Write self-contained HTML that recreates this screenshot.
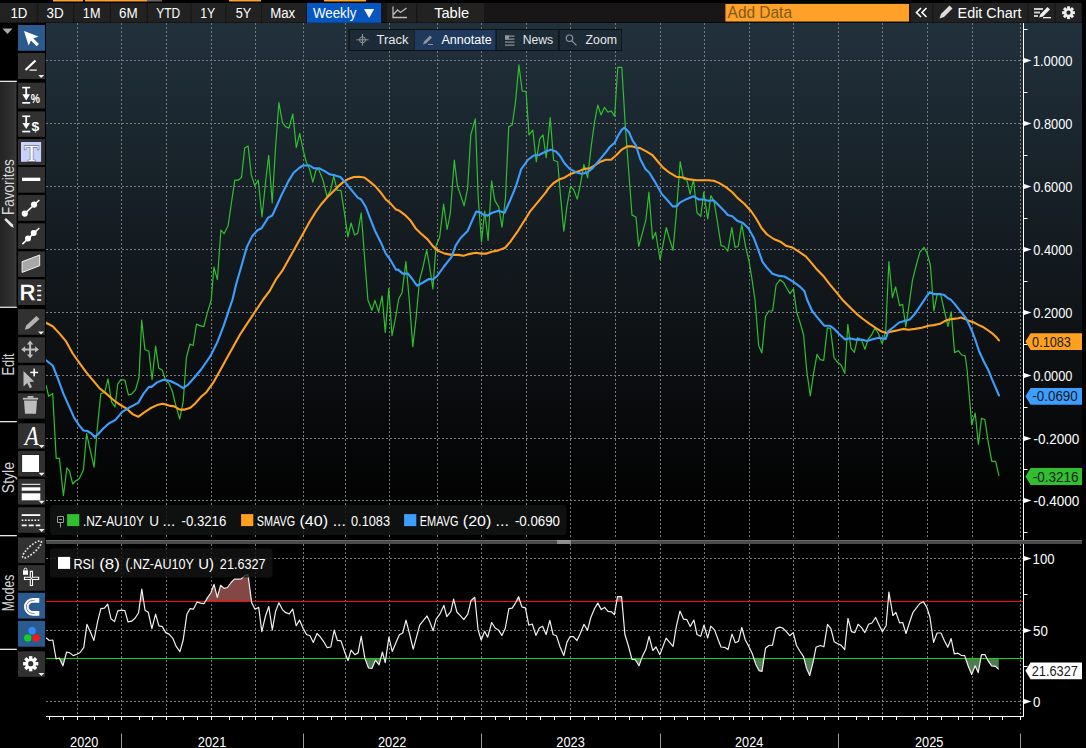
<!DOCTYPE html>
<html><head><meta charset="utf-8"><title>Chart</title>
<style>html,body{margin:0;padding:0;background:#000;overflow:hidden}svg{display:block}text{font-family:"Liberation Sans",Arial,sans-serif}text.sf{font-family:"Liberation Serif",serif}</style>
</head><body>
<svg width="1086" height="748" viewBox="0 0 1086 748" shape-rendering="auto">
<rect width="1086" height="748" fill="#000"/>
<defs>
<linearGradient id="bg" x1="0" y1="0" x2="0" y2="1"><stop offset="0" stop-color="#21313c"/><stop offset="0.45" stop-color="#131a1f"/><stop offset="0.72" stop-color="#0a0c0e"/><stop offset="0.92" stop-color="#020202"/><stop offset="1" stop-color="#000"/></linearGradient>
<linearGradient id="fav" x1="0" y1="0" x2="1" y2="0"><stop offset="0" stop-color="#242424"/><stop offset="0.85" stop-color="#323232"/><stop offset="1" stop-color="#3c3c3c"/></linearGradient>
<clipPath id="cm"><rect x="46" y="23" width="977" height="516"/></clipPath>
<clipPath id="c70"><rect x="46" y="545" width="977" height="56"/></clipPath>
<clipPath id="c30"><rect x="46" y="659" width="977" height="56"/></clipPath>
</defs>
<rect x="53.0" y="0.0" width="30.0" height="1.5" fill="#ffa028" />
<rect x="85.0" y="0.0" width="62.0" height="1.5" fill="#ffa028" />
<rect x="147.0" y="0.0" width="15.0" height="1.5" fill="#666" />
<rect x="229.0" y="0.0" width="32.0" height="1.5" fill="#ffa028" />
<rect x="324.0" y="0.0" width="42.0" height="1.5" fill="#ffa028" />
<rect x="0.0" y="3.0" width="1082.0" height="19.5" fill="#181616" />
<rect x="0.0" y="3.0" width="36.8" height="19.5" fill="#222222" />
<text x="10.41" y="18.0" font-size="15.26" fill="#fff" stroke="#fff" stroke-width="0" textLength="16.93" lengthAdjust="spacingAndGlyphs" >1D</text>
<rect x="38.3" y="3.0" width="34.7" height="19.5" fill="#222222" />
<text x="46.50" y="18.0" font-size="15.26" fill="#fff" stroke="#fff" stroke-width="0" textLength="17.15" lengthAdjust="spacingAndGlyphs" >3D</text>
<rect x="74.4" y="3.0" width="35.4" height="19.5" fill="#222222" />
<text x="82.85" y="18.0" font-size="15.26" fill="#fff" stroke="#fff" stroke-width="0" textLength="17.58" lengthAdjust="spacingAndGlyphs" >1M</text>
<rect x="111.0" y="3.0" width="35.6" height="19.5" fill="#222222" />
<text x="119.03" y="18.0" font-size="15.26" fill="#fff" stroke="#fff" stroke-width="0" textLength="18.67" lengthAdjust="spacingAndGlyphs" >6M</text>
<rect x="148.0" y="3.0" width="42.4" height="19.5" fill="#222222" />
<text x="156.26" y="18.0" font-size="15.26" fill="#fff" stroke="#fff" stroke-width="0" textLength="23.91" lengthAdjust="spacingAndGlyphs" >YTD</text>
<rect x="191.5" y="3.0" width="33.9" height="19.5" fill="#222222" />
<text x="200.28" y="18.0" font-size="15.26" fill="#fff" stroke="#fff" stroke-width="0" textLength="15.00" lengthAdjust="spacingAndGlyphs" >1Y</text>
<rect x="226.5" y="3.0" width="34.5" height="19.5" fill="#222222" />
<text x="235.69" y="18.0" font-size="15.26" fill="#fff" stroke="#fff" stroke-width="0" textLength="15.50" lengthAdjust="spacingAndGlyphs" >5Y</text>
<rect x="262.0" y="3.0" width="44.0" height="19.5" fill="#222222" />
<text x="270.14" y="18.0" font-size="15.26" fill="#fff" stroke="#fff" stroke-width="0" textLength="25.08" lengthAdjust="spacingAndGlyphs" >Max</text>
<rect x="307.0" y="3.0" width="74.0" height="19.8" fill="#0556c0" />
<text x="312.97" y="18.0" font-size="15.26" fill="#fff" stroke="#fff" stroke-width="0" textLength="43.44" lengthAdjust="spacingAndGlyphs" >Weekly</text>
<path d="M364,9 L374.2,9 L369.1,18 Z" fill="#f4f4f4"/>
<rect x="387.0" y="3.0" width="29.0" height="19.5" fill="#222" />
<path d="M393,6.5 V17.5 H407 M393.5,14.5 L397.5,10 L400.5,12.5 L406.5,8" fill="none" stroke="#bbb" stroke-width="1.3"/>
<rect x="417.5" y="3.0" width="66.7" height="19.5" fill="#222" />
<text x="434.21" y="18.0" font-size="15.26" fill="#fff" stroke="#fff" stroke-width="0" textLength="34.92" lengthAdjust="spacingAndGlyphs" >Table</text>
<rect x="725.4" y="4.0" width="183.6" height="17.5" fill="#ffa028" />
<text x="727.60" y="18.4" font-size="15.99" fill="#7d5a1c" stroke="#7d5a1c" stroke-width="0" textLength="64.39" lengthAdjust="spacingAndGlyphs" >Add Data</text>
<rect x="911.0" y="3.0" width="21.0" height="19.5" fill="#222" />
<path d="M921,8 L916.5,12.5 L921,17 M926.5,8 L922,12.5 L926.5,17" fill="none" stroke="#fff" stroke-width="1.6"/>
<rect x="933.5" y="3.0" width="94.0" height="19.5" fill="#222" />
<path d="M939.5,18.5 L941,14 L949.5,5.5 L952.5,8.5 L944,17 Z" fill="#ddd"/>
<text x="957.55" y="18.0" font-size="15.26" fill="#fff" stroke="#fff" stroke-width="0" textLength="63.94" lengthAdjust="spacingAndGlyphs" >Edit Chart</text>
<rect x="1028.7" y="3.0" width="25.8" height="19.5" fill="#222" />
<rect x="1034.0" y="8.0" width="9.0" height="2.0" fill="#ccc" />
<rect x="1034.0" y="11.5" width="6.0" height="2.0" fill="#ccc" />
<rect x="1034.0" y="15.0" width="4.0" height="2.0" fill="#ccc" />
<path d="M1039,17.5 L1040.5,14 L1047.5,7 L1050,9.5 L1043,16.5 Z" fill="#eee"/>
<rect x="1043.0" y="17.0" width="8.0" height="1.3" fill="#eee" />
<rect x="1055.8" y="3.0" width="25.4" height="19.5" fill="#222" />
<g transform="translate(1068.5,12.7)"><rect x="-1.5" y="-6.4" width="3" height="12.8" fill="#eee" transform="rotate(0.0)"/><rect x="-1.5" y="-6.4" width="3" height="12.8" fill="#eee" transform="rotate(45.0)"/><rect x="-1.5" y="-6.4" width="3" height="12.8" fill="#eee" transform="rotate(90.0)"/><rect x="-1.5" y="-6.4" width="3" height="12.8" fill="#eee" transform="rotate(135.0)"/><circle r="4.5" fill="#eee"/><circle r="2.1" fill="#222"/></g>
<rect x="46.0" y="23.0" width="1036.0" height="517.0" fill="url(#bg)" />
<rect x="0.0" y="540.0" width="1086.0" height="208.0" fill="#000" />
<rect x="1082.0" y="0.0" width="4.0" height="748.0" fill="#000" />
<path d="M77.5,23 V539" stroke="#767b7a" stroke-width="1" stroke-dasharray="2 2" fill="none"/>
<path d="M77.5,544 V716" stroke="#767b7a" stroke-width="1" stroke-dasharray="2 2" fill="none"/>
<path d="M121.5,23 V539" stroke="#767b7a" stroke-width="1" stroke-dasharray="2 2" fill="none"/>
<path d="M121.5,544 V716" stroke="#767b7a" stroke-width="1" stroke-dasharray="2 2" fill="none"/>
<path d="M166.5,23 V539" stroke="#767b7a" stroke-width="1" stroke-dasharray="2 2" fill="none"/>
<path d="M166.5,544 V716" stroke="#767b7a" stroke-width="1" stroke-dasharray="2 2" fill="none"/>
<path d="M211.5,23 V539" stroke="#767b7a" stroke-width="1" stroke-dasharray="2 2" fill="none"/>
<path d="M211.5,544 V716" stroke="#767b7a" stroke-width="1" stroke-dasharray="2 2" fill="none"/>
<path d="M255.5,23 V539" stroke="#767b7a" stroke-width="1" stroke-dasharray="2 2" fill="none"/>
<path d="M255.5,544 V716" stroke="#767b7a" stroke-width="1" stroke-dasharray="2 2" fill="none"/>
<path d="M303.5,23 V539" stroke="#767b7a" stroke-width="1" stroke-dasharray="2 2" fill="none"/>
<path d="M303.5,544 V716" stroke="#767b7a" stroke-width="1" stroke-dasharray="2 2" fill="none"/>
<path d="M345.5,23 V539" stroke="#767b7a" stroke-width="1" stroke-dasharray="2 2" fill="none"/>
<path d="M345.5,544 V716" stroke="#767b7a" stroke-width="1" stroke-dasharray="2 2" fill="none"/>
<path d="M389.5,23 V539" stroke="#767b7a" stroke-width="1" stroke-dasharray="2 2" fill="none"/>
<path d="M389.5,544 V716" stroke="#767b7a" stroke-width="1" stroke-dasharray="2 2" fill="none"/>
<path d="M437.5,23 V539" stroke="#767b7a" stroke-width="1" stroke-dasharray="2 2" fill="none"/>
<path d="M437.5,544 V716" stroke="#767b7a" stroke-width="1" stroke-dasharray="2 2" fill="none"/>
<path d="M481.5,23 V539" stroke="#767b7a" stroke-width="1" stroke-dasharray="2 2" fill="none"/>
<path d="M481.5,544 V716" stroke="#767b7a" stroke-width="1" stroke-dasharray="2 2" fill="none"/>
<path d="M526.5,23 V539" stroke="#767b7a" stroke-width="1" stroke-dasharray="2 2" fill="none"/>
<path d="M526.5,544 V716" stroke="#767b7a" stroke-width="1" stroke-dasharray="2 2" fill="none"/>
<path d="M570.5,23 V539" stroke="#767b7a" stroke-width="1" stroke-dasharray="2 2" fill="none"/>
<path d="M570.5,544 V716" stroke="#767b7a" stroke-width="1" stroke-dasharray="2 2" fill="none"/>
<path d="M615.5,23 V539" stroke="#767b7a" stroke-width="1" stroke-dasharray="2 2" fill="none"/>
<path d="M615.5,544 V716" stroke="#767b7a" stroke-width="1" stroke-dasharray="2 2" fill="none"/>
<path d="M660.5,23 V539" stroke="#767b7a" stroke-width="1" stroke-dasharray="2 2" fill="none"/>
<path d="M660.5,544 V716" stroke="#767b7a" stroke-width="1" stroke-dasharray="2 2" fill="none"/>
<path d="M704.5,23 V539" stroke="#767b7a" stroke-width="1" stroke-dasharray="2 2" fill="none"/>
<path d="M704.5,544 V716" stroke="#767b7a" stroke-width="1" stroke-dasharray="2 2" fill="none"/>
<path d="M749.5,23 V539" stroke="#767b7a" stroke-width="1" stroke-dasharray="2 2" fill="none"/>
<path d="M749.5,544 V716" stroke="#767b7a" stroke-width="1" stroke-dasharray="2 2" fill="none"/>
<path d="M793.5,23 V539" stroke="#767b7a" stroke-width="1" stroke-dasharray="2 2" fill="none"/>
<path d="M793.5,544 V716" stroke="#767b7a" stroke-width="1" stroke-dasharray="2 2" fill="none"/>
<path d="M838.5,23 V539" stroke="#767b7a" stroke-width="1" stroke-dasharray="2 2" fill="none"/>
<path d="M838.5,544 V716" stroke="#767b7a" stroke-width="1" stroke-dasharray="2 2" fill="none"/>
<path d="M882.5,23 V539" stroke="#767b7a" stroke-width="1" stroke-dasharray="2 2" fill="none"/>
<path d="M882.5,544 V716" stroke="#767b7a" stroke-width="1" stroke-dasharray="2 2" fill="none"/>
<path d="M927.5,23 V539" stroke="#767b7a" stroke-width="1" stroke-dasharray="2 2" fill="none"/>
<path d="M927.5,544 V716" stroke="#767b7a" stroke-width="1" stroke-dasharray="2 2" fill="none"/>
<path d="M972.5,23 V539" stroke="#767b7a" stroke-width="1" stroke-dasharray="2 2" fill="none"/>
<path d="M972.5,544 V716" stroke="#767b7a" stroke-width="1" stroke-dasharray="2 2" fill="none"/>
<path d="M1020.5,23 V539" stroke="#767b7a" stroke-width="1" stroke-dasharray="2 2" fill="none"/>
<path d="M1020.5,544 V716" stroke="#767b7a" stroke-width="1" stroke-dasharray="2 2" fill="none"/>
<path d="M46,60.5 H1023" stroke="#767b7a" stroke-width="1" stroke-dasharray="2 2" fill="none"/>
<path d="M46,123.5 H1023" stroke="#767b7a" stroke-width="1" stroke-dasharray="2 2" fill="none"/>
<path d="M46,186.5 H1023" stroke="#767b7a" stroke-width="1" stroke-dasharray="2 2" fill="none"/>
<path d="M46,249.5 H1023" stroke="#767b7a" stroke-width="1" stroke-dasharray="2 2" fill="none"/>
<path d="M46,312.5 H1023" stroke="#767b7a" stroke-width="1" stroke-dasharray="2 2" fill="none"/>
<path d="M46,375.5 H1023" stroke="#767b7a" stroke-width="1" stroke-dasharray="2 2" fill="none"/>
<path d="M46,438.5 H1023" stroke="#767b7a" stroke-width="1" stroke-dasharray="2 2" fill="none"/>
<path d="M46,500.5 H1023" stroke="#767b7a" stroke-width="1" stroke-dasharray="2 2" fill="none"/>
<path d="M46,558.5 H1023" stroke="#767b7a" stroke-width="1" stroke-dasharray="2 2" fill="none"/>
<path d="M46,630.5 H1023" stroke="#767b7a" stroke-width="1" stroke-dasharray="2 2" fill="none"/>
<path d="M46,701.5 H1023" stroke="#767b7a" stroke-width="1" stroke-dasharray="2 2" fill="none"/>
<g clip-path="url(#cm)">
<path d="M46.0,385.0 L48.7,396.3 L52.7,393.6 L56.2,458.3 L59.4,458.3 L63.4,495.7 L66.9,467.9 L69.5,471.1 L72.7,484.0 L76.2,480.5 L79.4,478.6 L83.4,469.8 L86.6,433.7 L90.1,449.7 L94.1,467.1 L97.3,428.3 L100.8,393.6 L104.8,392.2 L108.0,378.9 L111.5,401.6 L115.0,407.0 L117.7,384.2 L120.9,379.7 L124.9,380.2 L128.4,394.9 L131.6,394.1 L135.6,389.6 L139.0,377.5 L141.7,320.1 L144.9,349.5 L148.9,351.3 L152.1,379.7 L155.6,346.0 L158.8,368.2 L162.3,370.1 L165.5,380.2 L169.0,383.4 L172.2,390.9 L176.2,407.0 L179.7,419.0 L183.2,401.6 L186.4,357.5 L189.9,344.1 L193.1,345.5 L196.5,324.1 L200.5,325.9 L203.8,326.7 L207.2,313.4 L211.2,300.0 L213.9,267.1 L217.4,279.7 L220.9,230.2 L224.1,233.7 L228.1,225.7 L231.6,201.6 L234.8,180.2 L238.2,180.2 L241.5,177.5 L244.7,148.1 L248.1,146.0 L251.3,174.9 L254.8,185.6 L258.3,180.2 L262.0,216.8 L265.5,182.9 L268.7,155.3 L272.2,202.9 L275.4,149.5 L278.9,102.7 L282.4,122.7 L285.6,126.7 L289.0,128.1 L292.8,113.9 L296.3,147.6 L299.7,133.4 L303.0,149.5 L306.2,162.0 L309.6,169.0 L312.8,182.1 L316.3,169.0 L319.0,170.1 L323.0,180.2 L327.0,196.3 L330.5,190.9 L333.7,176.2 L337.2,190.4 L340.9,190.4 L344.4,212.3 L347.9,236.9 L351.1,223.0 L354.6,235.0 L357.8,233.2 L361.2,212.8 L364.4,255.1 L367.9,300.0 L371.9,310.3 L374.9,300.4 L378.6,311.9 L382.1,295.8 L385.3,332.5 L388.8,288.3 L392.0,335.7 L395.5,317.8 L398.7,299.0 L402.1,292.4 L405.9,261.6 L409.4,301.7 L412.8,346.6 L416.1,317.8 L419.5,280.3 L423.0,267.0 L426.7,250.1 L429.7,267.0 L432.9,288.9 L436.1,245.6 L439.6,237.5 L443.6,204.1 L447.1,229.5 L450.3,213.5 L454.3,160.0 L457.4,185.7 L460.9,196.4 L464.1,205.8 L467.6,188.4 L470.8,134.9 L475.3,118.9 L478.2,197.8 L481.5,241.9 L484.7,211.1 L488.1,240.5 L491.6,180.9 L494.8,200.4 L498.8,207.1 L502.0,227.2 L505.5,197.8 L508.7,126.9 L512.2,125.0 L515.4,102.8 L518.9,64.9 L522.1,90.8 L526.1,91.6 L529.0,134.9 L532.8,130.1 L536.3,161.7 L539.7,138.9 L543.0,134.9 L546.2,157.6 L550.2,117.5 L553.6,160.3 L557.7,161.7 L560.3,193.7 L563.8,231.2 L567.0,205.8 L570.5,186.5 L573.7,189.7 L577.2,199.1 L580.4,184.4 L583.9,164.3 L587.6,177.7 L591.1,147.0 L594.6,121.6 L597.8,105.0 L601.0,114.9 L604.4,107.4 L607.9,112.2 L611.1,110.9 L614.6,116.2 L617.8,67.3 L621.8,67.3 L625.3,125.6 L628.5,168.3 L632.0,215.1 L636.0,217.0 L638.7,246.5 L642.2,233.7 L645.9,219.8 L648.9,192.2 L652.6,239.0 L655.6,232.4 L660.1,259.6 L663.6,241.7 L666.3,227.5 L669.5,239.0 L673.0,250.3 L676.2,215.0 L680.2,161.5 L683.4,178.9 L686.9,180.2 L690.1,194.1 L693.5,179.7 L697.0,212.8 L700.8,216.3 L703.7,192.2 L707.7,219.0 L710.9,195.5 L714.1,201.6 L717.6,223.0 L721.1,245.7 L724.3,246.5 L727.8,251.1 L731.8,227.5 L735.0,247.1 L738.2,246.5 L741.7,224.3 L745.7,247.1 L748.9,260.4 L752.4,281.8 L755.0,300.0 L758.7,345.7 L761.9,352.9 L765.4,316.8 L768.9,311.0 L772.6,311.0 L776.1,285.0 L780.1,279.7 L783.6,282.4 L786.8,288.2 L790.0,293.6 L793.5,288.8 L796.7,312.3 L800.2,323.0 L803.6,335.0 L806.8,371.1 L810.3,396.0 L813.5,373.8 L817.0,354.3 L820.2,359.6 L823.7,360.4 L827.4,327.8 L830.4,328.3 L834.1,357.8 L837.6,362.3 L841.1,365.0 L844.8,373.3 L847.8,324.3 L851.0,348.4 L854.4,352.4 L857.6,337.7 L861.7,340.4 L864.9,349.2 L868.3,339.0 L871.6,335.0 L875.0,327.8 L878.5,333.7 L882.2,343.9 L885.7,331.0 L888.9,261.5 L892.4,297.6 L895.6,286.9 L899.6,305.6 L902.6,304.3 L905.8,327.0 L909.3,302.9 L912.5,280.2 L916.5,264.2 L919.9,252.1 L924.0,247.3 L927.2,253.5 L930.4,265.5 L933.9,311.0 L937.3,293.6 L940.5,293.6 L944.3,310.5 L948.0,326.4 L951.2,311.8 L954.6,352.6 L958.3,350.7 L961.7,355.0 L965.2,355.8 L967.1,370.0 L971.8,424.9 L975.2,413.1 L978.4,444.5 L981.5,418.3 L984.9,419.6 L988.3,442.6 L991.8,461.4 L995.6,461.4 L999.0,475.8" fill="none" stroke="#2fbf2f" stroke-width="1.2" stroke-linejoin="round"/>
<path d="M46.0,322.7 L52.7,326.2 L59.4,333.4 L66.1,341.4 L72.7,353.5 L79.4,362.8 L86.1,372.2 L92.8,380.2 L99.5,388.2 L106.2,393.6 L112.8,399.5 L119.5,404.3 L126.2,408.3 L132.9,414.4 L138.2,416.8 L143.6,412.8 L150.3,408.3 L157.0,405.1 L162.8,403.7 L169.0,405.6 L174.3,406.4 L179.7,409.6 L185.0,409.6 L190.4,407.8 L195.7,402.9 L201.1,396.8 L206.4,392.2 L213.1,382.9 L219.8,370.9 L226.5,358.8 L233.2,346.8 L239.9,334.8 L246.0,325.4 L262.8,300.0 L269.5,291.2 L276.2,279.1 L282.9,269.8 L289.6,257.8 L296.3,245.7 L303.0,233.7 L309.6,221.7 L316.3,211.0 L321.7,203.7 L327.0,197.6 L332.4,192.2 L337.7,186.9 L343.1,182.1 L348.4,178.9 L353.8,177.0 L359.1,176.7 L364.4,177.5 L369.8,181.6 L375.1,186.1 L380.5,192.2 L385.8,199.5 L389.9,202.9 L396.0,209.6 L399.5,210.8 L404.8,214.8 L410.2,220.2 L415.5,228.2 L420.9,233.5 L427.6,239.4 L432.9,246.1 L438.2,250.9 L444.9,253.6 L451.6,254.9 L458.3,254.9 L463.6,255.7 L469.0,254.1 L475.7,252.8 L481.0,253.6 L486.4,253.6 L491.7,251.7 L498.4,250.4 L505.1,247.7 L510.4,241.6 L517.1,232.2 L523.8,221.5 L530.5,210.8 L537.2,202.8 L546.0,192.1 L548.3,188.4 L553.6,183.0 L559.0,179.6 L564.3,177.7 L571.0,173.7 L577.7,171.6 L584.4,168.9 L589.7,168.3 L595.1,165.1 L600.4,161.7 L605.8,159.8 L611.1,159.8 L616.5,155.0 L621.8,149.6 L627.2,146.4 L632.5,146.4 L636.0,147.5 L640.1,148.1 L646.7,151.6 L652.1,154.8 L657.4,161.0 L662.8,167.4 L669.5,172.7 L676.2,176.7 L682.8,177.5 L689.5,179.4 L696.2,180.2 L702.9,180.2 L708.2,180.2 L713.6,180.7 L718.9,182.9 L725.6,186.9 L732.3,192.2 L737.7,198.1 L744.3,203.7 L751.0,211.0 L756.4,219.0 L761.7,228.3 L767.1,234.5 L773.8,239.0 L780.4,241.7 L785.8,245.7 L792.5,247.6 L799.2,251.9 L805.8,256.4 L811.2,262.6 L816.0,268.4 L822.9,275.4 L829.6,284.2 L836.3,292.2 L842.9,300.3 L849.6,307.0 L856.3,313.6 L863.0,319.0 L869.7,323.8 L876.4,328.3 L881.7,331.6 L886.5,332.9 L891.1,331.6 L897.8,330.2 L903.1,328.9 L908.4,329.7 L915.1,328.9 L921.8,327.8 L928.5,325.7 L933.9,325.1 L940.0,323.8 L944.3,321.3 L949.0,319.5 L953.6,318.9 L958.3,318.3 L961.1,317.6 L964.9,318.9 L969.5,321.1 L974.2,322.6 L978.9,325.1 L983.6,327.3 L988.3,330.5 L992.9,333.9 L996.7,337.6 L998.9,340.4" fill="none" stroke="#ffa01e" stroke-width="2.1" stroke-linejoin="round" stroke-linecap="round"/>
<path d="M46.0,360.2 L52.7,365.5 L58.0,378.9 L63.4,393.6 L68.7,405.6 L74.1,417.6 L79.4,425.7 L83.4,430.5 L87.4,431.0 L91.5,433.7 L94.7,436.9 L98.1,434.2 L103.5,428.3 L108.8,423.5 L115.5,419.8 L122.2,411.8 L128.9,407.8 L138.2,402.9 L143.6,393.6 L148.9,386.9 L151.6,386.9 L157.0,382.4 L163.6,379.7 L170.3,381.0 L177.0,384.2 L183.2,388.2 L187.7,385.0 L194.4,377.5 L201.1,369.5 L210.4,356.1 L217.1,342.8 L223.8,325.4 L230.5,305.3 L232.4,300.0 L236.1,284.5 L241.5,265.8 L246.8,247.1 L252.1,236.4 L257.5,230.2 L261.5,228.3 L268.2,217.6 L272.2,215.5 L276.2,207.0 L281.6,194.9 L288.2,181.6 L293.6,172.7 L298.9,168.2 L303.0,165.5 L309.6,165.5 L313.6,168.2 L319.0,168.2 L324.3,170.9 L329.7,174.3 L335.0,175.4 L340.4,177.0 L345.7,182.9 L351.1,189.6 L357.8,197.6 L361.2,199.5 L365.8,207.0 L369.8,217.6 L375.1,231.0 L380.5,241.7 L385.8,253.7 L389.9,259.1 L396.0,269.8 L398.1,269.6 L402.7,273.6 L408.0,273.6 L412.3,279.0 L416.9,285.7 L422.2,283.0 L428.9,279.0 L432.9,279.5 L436.9,276.3 L443.6,267.0 L451.6,256.8 L455.6,245.6 L461.0,237.5 L467.7,230.9 L471.7,221.5 L476.2,211.6 L479.7,212.1 L483.7,214.8 L487.7,215.6 L491.7,212.9 L498.4,210.8 L504.6,212.7 L509.1,202.8 L515.8,186.7 L521.1,169.4 L527.8,160.0 L533.6,155.5 L538.9,155.0 L544.3,152.3 L551.0,149.6 L556.3,151.8 L560.3,156.3 L564.3,163.0 L569.7,168.9 L576.4,172.4 L581.7,173.7 L587.1,172.4 L592.4,168.3 L599.1,160.3 L605.8,152.3 L609.8,147.0 L614.6,142.9 L617.8,136.3 L621.8,129.6 L624.5,127.7 L629.0,132.2 L632.5,140.3 L636.0,145.6 L640.1,158.8 L645.4,169.0 L649.4,172.7 L654.8,181.6 L661.5,193.6 L666.8,199.5 L672.7,206.4 L676.2,206.4 L680.2,202.4 L686.9,198.9 L693.5,196.3 L698.9,199.5 L703.7,199.5 L708.2,200.8 L713.6,200.3 L718.9,205.6 L724.3,211.0 L727.8,215.0 L732.3,216.3 L737.7,221.1 L743.0,223.0 L748.4,228.3 L753.7,237.7 L757.7,248.4 L762.5,261.8 L767.1,267.9 L772.4,273.8 L779.1,275.9 L784.4,276.5 L789.8,279.7 L795.1,283.2 L800.5,287.2 L804.5,291.2 L807.2,300.0 L812.2,311.0 L817.5,317.6 L824.2,325.7 L829.6,325.7 L833.6,328.3 L838.9,333.7 L845.1,339.6 L849.6,338.2 L855.0,339.6 L861.7,339.6 L867.0,340.9 L873.7,339.0 L879.0,337.7 L885.7,339.0 L888.4,331.0 L893.7,327.0 L899.1,322.5 L904.4,320.9 L909.8,319.5 L915.1,313.6 L920.5,305.6 L925.8,297.6 L929.8,292.2 L933.9,294.1 L940.0,294.1 L944.3,295.1 L948.0,298.3 L950.8,299.6 L954.6,303.9 L958.3,308.6 L962.1,313.3 L965.8,318.0 L968.6,323.6 L972.4,332.0 L975.2,339.5 L978.9,350.7 L983.6,361.0 L988.3,370.0 L991.5,378.1 L994.3,384.6 L999.0,395.5" fill="none" stroke="#3c9eff" stroke-width="2.1" stroke-linejoin="round" stroke-linecap="round"/>
</g>
<path d="M46.0,637.8 L49.3,640.5 L52.8,640.0 L56.1,659.0 L59.3,658.0 L62.9,665.8 L66.6,652.0 L69.9,652.9 L73.3,655.6 L76.8,654.2 L80.1,652.5 L83.8,647.3 L86.9,624.3 L90.6,632.6 L93.9,640.5 L97.6,621.6 L100.9,608.7 L104.4,608.1 L107.7,604.1 L111.0,618.8 L114.5,621.6 L117.8,610.9 L121.5,610.1 L124.8,610.5 L128.0,621.9 L131.6,621.2 L135.0,618.3 L138.6,612.7 L141.8,589.0 L145.1,610.5 L148.2,612.0 L151.9,628.6 L155.6,614.2 L158.9,625.8 L162.4,626.7 L165.7,632.6 L169.0,634.1 L172.7,638.1 L176.2,646.4 L179.9,651.6 L183.2,640.0 L186.9,614.2 L190.0,608.7 L193.3,609.2 L197.0,602.2 L200.7,603.1 L204.0,603.7 L207.5,597.6 L210.8,593.0 L214.0,584.4 L217.3,597.3 L220.6,585.3 L224.1,588.4 L227.4,587.5 L231.1,582.5 L234.4,579.2 L237.9,579.2 L241.2,578.8 L244.9,575.5 L248.0,574.6 L251.7,602.8 L255.0,609.2 L258.7,607.4 L261.8,631.7 L265.5,616.0 L268.8,606.5 L272.3,629.9 L275.6,611.4 L278.9,602.8 L282.4,609.6 L285.7,612.7 L289.4,613.8 L292.7,609.0 L296.2,625.8 L299.5,620.1 L303.2,628.6 L306.5,634.5 L310.0,635.7 L313.3,642.4 L317.0,633.5 L320.3,636.9 L323.8,641.8 L327.2,647.7 L330.8,647.0 L334.2,630.2 L337.3,640.3 L341.0,640.9 L344.7,652.0 L348.0,660.6 L351.1,650.1 L354.8,654.7 L358.1,652.9 L361.2,636.3 L364.9,658.4 L368.6,668.0 L371.9,668.5 L375.4,660.2 L379.1,664.8 L382.4,652.0 L385.2,662.6 L388.9,637.2 L392.2,651.4 L395.9,642.7 L399.4,634.8 L402.7,633.0 L406.0,620.1 L409.7,634.5 L413.2,649.2 L416.5,637.2 L419.8,624.9 L423.3,620.6 L427.0,616.0 L429.9,622.1 L433.1,630.8 L436.0,619.4 L439.8,614.2 L443.9,605.4 L446.8,616.6 L450.9,611.4 L453.6,599.1 L456.9,612.0 L460.4,615.7 L463.8,619.7 L467.8,614.2 L471.1,600.4 L474.8,597.3 L478.1,629.9 L481.2,640.0 L484.6,631.3 L487.7,637.2 L491.7,622.5 L495.1,628.0 L498.4,629.9 L501.9,635.4 L505.2,628.6 L508.9,608.7 L512.2,608.1 L515.7,602.6 L518.6,596.7 L521.8,606.8 L525.4,607.8 L528.8,625.2 L532.3,624.0 L535.9,635.4 L539.3,628.0 L542.6,626.2 L546.1,634.5 L549.8,620.3 L553.1,634.5 L556.4,635.7 L559.9,646.4 L563.8,655.6 L566.9,642.4 L570.0,636.7 L573.3,636.7 L577.0,640.5 L580.3,633.5 L584.0,624.3 L587.5,630.4 L590.8,617.5 L594.5,608.7 L597.8,603.1 L601.3,609.6 L604.6,607.4 L608.0,611.4 L611.5,611.8 L614.4,614.6 L617.5,596.7 L621.6,596.7 L624.9,634.5 L628.3,645.5 L632.0,659.3 L635.3,659.7 L639.0,665.8 L642.3,656.6 L645.8,649.6 L649.1,636.3 L652.8,650.5 L656.0,647.0 L659.8,654.7 L663.0,646.4 L666.1,638.1 L669.4,642.2 L673.1,646.4 L676.4,626.2 L679.9,611.1 L683.6,619.2 L686.9,619.7 L690.2,626.5 L693.9,620.1 L697.0,634.5 L700.7,636.3 L704.0,625.2 L707.7,637.8 L710.8,626.2 L714.5,629.9 L717.8,638.7 L721.0,647.0 L724.7,647.3 L728.0,649.6 L732.0,634.1 L735.3,642.7 L738.5,641.3 L741.8,627.5 L745.3,640.0 L748.6,645.9 L752.3,653.8 L755.6,663.9 L759.1,670.7 L762.0,671.3 L765.5,648.3 L768.9,645.5 L772.5,645.1 L775.9,628.9 L779.5,627.1 L782.7,628.0 L786.3,631.7 L789.7,635.7 L793.2,632.6 L796.5,645.5 L799.8,651.0 L803.5,656.6 L806.6,668.5 L809.7,675.5 L813.1,662.1 L816.0,647.3 L820.2,645.5 L823.9,646.8 L827.5,624.3 L830.9,628.6 L834.2,641.8 L837.7,643.7 L841.0,645.1 L844.7,649.7 L848.0,618.4 L851.5,631.7 L854.8,632.6 L858.1,624.3 L861.6,627.6 L864.9,632.6 L868.6,624.3 L871.9,623.0 L875.6,617.5 L879.1,624.9 L882.4,631.7 L886.1,625.8 L888.9,592.1 L892.9,615.5 L895.9,612.4 L899.6,622.9 L902.7,622.5 L906.0,633.5 L909.5,622.5 L912.8,612.7 L916.1,608.3 L919.8,603.5 L923.3,601.7 L926.6,606.8 L929.9,617.0 L933.6,642.4 L937.1,633.0 L941.0,633.0 L944.5,640.9 L947.8,647.3 L951.1,638.5 L954.3,653.8 L957.9,653.2 L961.2,655.3 L964.7,655.6 L968.1,665.8 L971.7,674.4 L975.1,665.8 L978.2,672.6 L981.5,654.7 L985.0,654.7 L988.3,661.2 L991.6,665.8 L995.3,666.3 L998.8,669.4 L998.8,601.5 L46.0,601.5 Z" fill="#834846" clip-path="url(#c70)"/>
<path d="M46.0,637.8 L49.3,640.5 L52.8,640.0 L56.1,659.0 L59.3,658.0 L62.9,665.8 L66.6,652.0 L69.9,652.9 L73.3,655.6 L76.8,654.2 L80.1,652.5 L83.8,647.3 L86.9,624.3 L90.6,632.6 L93.9,640.5 L97.6,621.6 L100.9,608.7 L104.4,608.1 L107.7,604.1 L111.0,618.8 L114.5,621.6 L117.8,610.9 L121.5,610.1 L124.8,610.5 L128.0,621.9 L131.6,621.2 L135.0,618.3 L138.6,612.7 L141.8,589.0 L145.1,610.5 L148.2,612.0 L151.9,628.6 L155.6,614.2 L158.9,625.8 L162.4,626.7 L165.7,632.6 L169.0,634.1 L172.7,638.1 L176.2,646.4 L179.9,651.6 L183.2,640.0 L186.9,614.2 L190.0,608.7 L193.3,609.2 L197.0,602.2 L200.7,603.1 L204.0,603.7 L207.5,597.6 L210.8,593.0 L214.0,584.4 L217.3,597.3 L220.6,585.3 L224.1,588.4 L227.4,587.5 L231.1,582.5 L234.4,579.2 L237.9,579.2 L241.2,578.8 L244.9,575.5 L248.0,574.6 L251.7,602.8 L255.0,609.2 L258.7,607.4 L261.8,631.7 L265.5,616.0 L268.8,606.5 L272.3,629.9 L275.6,611.4 L278.9,602.8 L282.4,609.6 L285.7,612.7 L289.4,613.8 L292.7,609.0 L296.2,625.8 L299.5,620.1 L303.2,628.6 L306.5,634.5 L310.0,635.7 L313.3,642.4 L317.0,633.5 L320.3,636.9 L323.8,641.8 L327.2,647.7 L330.8,647.0 L334.2,630.2 L337.3,640.3 L341.0,640.9 L344.7,652.0 L348.0,660.6 L351.1,650.1 L354.8,654.7 L358.1,652.9 L361.2,636.3 L364.9,658.4 L368.6,668.0 L371.9,668.5 L375.4,660.2 L379.1,664.8 L382.4,652.0 L385.2,662.6 L388.9,637.2 L392.2,651.4 L395.9,642.7 L399.4,634.8 L402.7,633.0 L406.0,620.1 L409.7,634.5 L413.2,649.2 L416.5,637.2 L419.8,624.9 L423.3,620.6 L427.0,616.0 L429.9,622.1 L433.1,630.8 L436.0,619.4 L439.8,614.2 L443.9,605.4 L446.8,616.6 L450.9,611.4 L453.6,599.1 L456.9,612.0 L460.4,615.7 L463.8,619.7 L467.8,614.2 L471.1,600.4 L474.8,597.3 L478.1,629.9 L481.2,640.0 L484.6,631.3 L487.7,637.2 L491.7,622.5 L495.1,628.0 L498.4,629.9 L501.9,635.4 L505.2,628.6 L508.9,608.7 L512.2,608.1 L515.7,602.6 L518.6,596.7 L521.8,606.8 L525.4,607.8 L528.8,625.2 L532.3,624.0 L535.9,635.4 L539.3,628.0 L542.6,626.2 L546.1,634.5 L549.8,620.3 L553.1,634.5 L556.4,635.7 L559.9,646.4 L563.8,655.6 L566.9,642.4 L570.0,636.7 L573.3,636.7 L577.0,640.5 L580.3,633.5 L584.0,624.3 L587.5,630.4 L590.8,617.5 L594.5,608.7 L597.8,603.1 L601.3,609.6 L604.6,607.4 L608.0,611.4 L611.5,611.8 L614.4,614.6 L617.5,596.7 L621.6,596.7 L624.9,634.5 L628.3,645.5 L632.0,659.3 L635.3,659.7 L639.0,665.8 L642.3,656.6 L645.8,649.6 L649.1,636.3 L652.8,650.5 L656.0,647.0 L659.8,654.7 L663.0,646.4 L666.1,638.1 L669.4,642.2 L673.1,646.4 L676.4,626.2 L679.9,611.1 L683.6,619.2 L686.9,619.7 L690.2,626.5 L693.9,620.1 L697.0,634.5 L700.7,636.3 L704.0,625.2 L707.7,637.8 L710.8,626.2 L714.5,629.9 L717.8,638.7 L721.0,647.0 L724.7,647.3 L728.0,649.6 L732.0,634.1 L735.3,642.7 L738.5,641.3 L741.8,627.5 L745.3,640.0 L748.6,645.9 L752.3,653.8 L755.6,663.9 L759.1,670.7 L762.0,671.3 L765.5,648.3 L768.9,645.5 L772.5,645.1 L775.9,628.9 L779.5,627.1 L782.7,628.0 L786.3,631.7 L789.7,635.7 L793.2,632.6 L796.5,645.5 L799.8,651.0 L803.5,656.6 L806.6,668.5 L809.7,675.5 L813.1,662.1 L816.0,647.3 L820.2,645.5 L823.9,646.8 L827.5,624.3 L830.9,628.6 L834.2,641.8 L837.7,643.7 L841.0,645.1 L844.7,649.7 L848.0,618.4 L851.5,631.7 L854.8,632.6 L858.1,624.3 L861.6,627.6 L864.9,632.6 L868.6,624.3 L871.9,623.0 L875.6,617.5 L879.1,624.9 L882.4,631.7 L886.1,625.8 L888.9,592.1 L892.9,615.5 L895.9,612.4 L899.6,622.9 L902.7,622.5 L906.0,633.5 L909.5,622.5 L912.8,612.7 L916.1,608.3 L919.8,603.5 L923.3,601.7 L926.6,606.8 L929.9,617.0 L933.6,642.4 L937.1,633.0 L941.0,633.0 L944.5,640.9 L947.8,647.3 L951.1,638.5 L954.3,653.8 L957.9,653.2 L961.2,655.3 L964.7,655.6 L968.1,665.8 L971.7,674.4 L975.1,665.8 L978.2,672.6 L981.5,654.7 L985.0,654.7 L988.3,661.2 L991.6,665.8 L995.3,666.3 L998.8,669.4 L998.8,659 L46.0,659 Z" fill="#4f7a52" clip-path="url(#c30)"/>
<path d="M46,601.5 H1023" stroke="#ff0a0a" stroke-width="1" fill="none"/>
<path d="M46,658.5 H1023" stroke="#08dc08" stroke-width="1" fill="none"/>
<path d="M46.0,637.8 L49.3,640.5 L52.8,640.0 L56.1,659.0 L59.3,658.0 L62.9,665.8 L66.6,652.0 L69.9,652.9 L73.3,655.6 L76.8,654.2 L80.1,652.5 L83.8,647.3 L86.9,624.3 L90.6,632.6 L93.9,640.5 L97.6,621.6 L100.9,608.7 L104.4,608.1 L107.7,604.1 L111.0,618.8 L114.5,621.6 L117.8,610.9 L121.5,610.1 L124.8,610.5 L128.0,621.9 L131.6,621.2 L135.0,618.3 L138.6,612.7 L141.8,589.0 L145.1,610.5 L148.2,612.0 L151.9,628.6 L155.6,614.2 L158.9,625.8 L162.4,626.7 L165.7,632.6 L169.0,634.1 L172.7,638.1 L176.2,646.4 L179.9,651.6 L183.2,640.0 L186.9,614.2 L190.0,608.7 L193.3,609.2 L197.0,602.2 L200.7,603.1 L204.0,603.7 L207.5,597.6 L210.8,593.0 L214.0,584.4 L217.3,597.3 L220.6,585.3 L224.1,588.4 L227.4,587.5 L231.1,582.5 L234.4,579.2 L237.9,579.2 L241.2,578.8 L244.9,575.5 L248.0,574.6 L251.7,602.8 L255.0,609.2 L258.7,607.4 L261.8,631.7 L265.5,616.0 L268.8,606.5 L272.3,629.9 L275.6,611.4 L278.9,602.8 L282.4,609.6 L285.7,612.7 L289.4,613.8 L292.7,609.0 L296.2,625.8 L299.5,620.1 L303.2,628.6 L306.5,634.5 L310.0,635.7 L313.3,642.4 L317.0,633.5 L320.3,636.9 L323.8,641.8 L327.2,647.7 L330.8,647.0 L334.2,630.2 L337.3,640.3 L341.0,640.9 L344.7,652.0 L348.0,660.6 L351.1,650.1 L354.8,654.7 L358.1,652.9 L361.2,636.3 L364.9,658.4 L368.6,668.0 L371.9,668.5 L375.4,660.2 L379.1,664.8 L382.4,652.0 L385.2,662.6 L388.9,637.2 L392.2,651.4 L395.9,642.7 L399.4,634.8 L402.7,633.0 L406.0,620.1 L409.7,634.5 L413.2,649.2 L416.5,637.2 L419.8,624.9 L423.3,620.6 L427.0,616.0 L429.9,622.1 L433.1,630.8 L436.0,619.4 L439.8,614.2 L443.9,605.4 L446.8,616.6 L450.9,611.4 L453.6,599.1 L456.9,612.0 L460.4,615.7 L463.8,619.7 L467.8,614.2 L471.1,600.4 L474.8,597.3 L478.1,629.9 L481.2,640.0 L484.6,631.3 L487.7,637.2 L491.7,622.5 L495.1,628.0 L498.4,629.9 L501.9,635.4 L505.2,628.6 L508.9,608.7 L512.2,608.1 L515.7,602.6 L518.6,596.7 L521.8,606.8 L525.4,607.8 L528.8,625.2 L532.3,624.0 L535.9,635.4 L539.3,628.0 L542.6,626.2 L546.1,634.5 L549.8,620.3 L553.1,634.5 L556.4,635.7 L559.9,646.4 L563.8,655.6 L566.9,642.4 L570.0,636.7 L573.3,636.7 L577.0,640.5 L580.3,633.5 L584.0,624.3 L587.5,630.4 L590.8,617.5 L594.5,608.7 L597.8,603.1 L601.3,609.6 L604.6,607.4 L608.0,611.4 L611.5,611.8 L614.4,614.6 L617.5,596.7 L621.6,596.7 L624.9,634.5 L628.3,645.5 L632.0,659.3 L635.3,659.7 L639.0,665.8 L642.3,656.6 L645.8,649.6 L649.1,636.3 L652.8,650.5 L656.0,647.0 L659.8,654.7 L663.0,646.4 L666.1,638.1 L669.4,642.2 L673.1,646.4 L676.4,626.2 L679.9,611.1 L683.6,619.2 L686.9,619.7 L690.2,626.5 L693.9,620.1 L697.0,634.5 L700.7,636.3 L704.0,625.2 L707.7,637.8 L710.8,626.2 L714.5,629.9 L717.8,638.7 L721.0,647.0 L724.7,647.3 L728.0,649.6 L732.0,634.1 L735.3,642.7 L738.5,641.3 L741.8,627.5 L745.3,640.0 L748.6,645.9 L752.3,653.8 L755.6,663.9 L759.1,670.7 L762.0,671.3 L765.5,648.3 L768.9,645.5 L772.5,645.1 L775.9,628.9 L779.5,627.1 L782.7,628.0 L786.3,631.7 L789.7,635.7 L793.2,632.6 L796.5,645.5 L799.8,651.0 L803.5,656.6 L806.6,668.5 L809.7,675.5 L813.1,662.1 L816.0,647.3 L820.2,645.5 L823.9,646.8 L827.5,624.3 L830.9,628.6 L834.2,641.8 L837.7,643.7 L841.0,645.1 L844.7,649.7 L848.0,618.4 L851.5,631.7 L854.8,632.6 L858.1,624.3 L861.6,627.6 L864.9,632.6 L868.6,624.3 L871.9,623.0 L875.6,617.5 L879.1,624.9 L882.4,631.7 L886.1,625.8 L888.9,592.1 L892.9,615.5 L895.9,612.4 L899.6,622.9 L902.7,622.5 L906.0,633.5 L909.5,622.5 L912.8,612.7 L916.1,608.3 L919.8,603.5 L923.3,601.7 L926.6,606.8 L929.9,617.0 L933.6,642.4 L937.1,633.0 L941.0,633.0 L944.5,640.9 L947.8,647.3 L951.1,638.5 L954.3,653.8 L957.9,653.2 L961.2,655.3 L964.7,655.6 L968.1,665.8 L971.7,674.4 L975.1,665.8 L978.2,672.6 L981.5,654.7 L985.0,654.7 L988.3,661.2 L991.6,665.8 L995.3,666.3 L998.8,669.4" fill="none" stroke="#f0f0f0" stroke-width="1.2" stroke-linejoin="round"/>
<path d="M1023.5,23 V716.5" stroke="#fff" stroke-width="1" fill="none"/>
<path d="M46,716.5 H1024" stroke="#fff" stroke-width="1" fill="none"/>
<path d="M1024,57.9 L1031.5,60.5 L1024,63.1 Z" fill="#fff"/>
<text x="1032.72" y="66.0" font-size="14.97" fill="#fff" stroke="#fff" stroke-width="0" textLength="39.78" lengthAdjust="spacingAndGlyphs" >1.0000</text>
<path d="M1024,120.9 L1031.5,123.5 L1024,126.1 Z" fill="#fff"/>
<text x="1033.22" y="129.0" font-size="14.97" fill="#fff" stroke="#fff" stroke-width="0" textLength="39.28" lengthAdjust="spacingAndGlyphs" >0.8000</text>
<path d="M1024,183.9 L1031.5,186.5 L1024,189.1 Z" fill="#fff"/>
<text x="1033.22" y="192.0" font-size="14.97" fill="#fff" stroke="#fff" stroke-width="0" textLength="39.28" lengthAdjust="spacingAndGlyphs" >0.6000</text>
<path d="M1024,246.9 L1031.5,249.5 L1024,252.1 Z" fill="#fff"/>
<text x="1033.22" y="255.0" font-size="14.97" fill="#fff" stroke="#fff" stroke-width="0" textLength="39.28" lengthAdjust="spacingAndGlyphs" >0.4000</text>
<path d="M1024,309.9 L1031.5,312.5 L1024,315.1 Z" fill="#fff"/>
<text x="1033.22" y="318.0" font-size="14.97" fill="#fff" stroke="#fff" stroke-width="0" textLength="39.28" lengthAdjust="spacingAndGlyphs" >0.2000</text>
<path d="M1024,372.9 L1031.5,375.5 L1024,378.1 Z" fill="#fff"/>
<text x="1033.22" y="381.0" font-size="14.97" fill="#fff" stroke="#fff" stroke-width="0" textLength="39.28" lengthAdjust="spacingAndGlyphs" >0.0000</text>
<path d="M1024,435.9 L1031.5,438.5 L1024,441.1 Z" fill="#fff"/>
<text x="1033.42" y="444.0" font-size="14.97" fill="#fff" stroke="#fff" stroke-width="0" textLength="45.91" lengthAdjust="spacingAndGlyphs" >-0.2000</text>
<path d="M1024,497.9 L1031.5,500.5 L1024,503.1 Z" fill="#fff"/>
<text x="1033.42" y="506.0" font-size="14.97" fill="#fff" stroke="#fff" stroke-width="0" textLength="45.91" lengthAdjust="spacingAndGlyphs" >-0.4000</text>
<path d="M1024,29.5 H1027.5" stroke="#fff" stroke-width="1"/>
<path d="M1024,92.5 H1027.5" stroke="#fff" stroke-width="1"/>
<path d="M1024,155.5 H1027.5" stroke="#fff" stroke-width="1"/>
<path d="M1024,218.5 H1027.5" stroke="#fff" stroke-width="1"/>
<path d="M1024,281.5 H1027.5" stroke="#fff" stroke-width="1"/>
<path d="M1024,344.5 H1027.5" stroke="#fff" stroke-width="1"/>
<path d="M1024,407.5 H1027.5" stroke="#fff" stroke-width="1"/>
<path d="M1024,469.5 H1027.5" stroke="#fff" stroke-width="1"/>
<path d="M1024,532.5 H1027.5" stroke="#fff" stroke-width="1"/>
<path d="M1024,555.9 L1031.5,558.5 L1024,561.1 Z" fill="#fff"/>
<text x="1032.62" y="564.0" font-size="14.97" fill="#fff" stroke="#fff" stroke-width="0" textLength="21.89" lengthAdjust="spacingAndGlyphs" >100</text>
<path d="M1024,627.9 L1031.5,630.5 L1024,633.1 Z" fill="#fff"/>
<text x="1033.07" y="636.0" font-size="14.97" fill="#fff" stroke="#fff" stroke-width="0" textLength="14.76" lengthAdjust="spacingAndGlyphs" >50</text>
<path d="M1024,698.9 L1031.5,701.5 L1024,704.1 Z" fill="#fff"/>
<text x="1033.10" y="707.0" font-size="14.97" fill="#fff" stroke="#fff" stroke-width="0" textLength="7.42" lengthAdjust="spacingAndGlyphs" >0</text>
<path d="M1024,594.5 H1027.5" stroke="#fff" stroke-width="1"/>
<path d="M1024,666.5 H1027.5" stroke="#fff" stroke-width="1"/>
<path d="M1025.4,341.6 L1030.6,333.20000000000005 H1082 V350.0 H1030.6 Z" fill="#ffa01e"/>
<text x="1032.12" y="346.7" font-size="14.24" fill="#1a1a1a" stroke="#1a1a1a" stroke-width="0" textLength="38.83" lengthAdjust="spacingAndGlyphs" >0.1083</text>
<path d="M1025.4,396.3 L1030.6,387.90000000000003 H1082 V404.7 H1030.6 Z" fill="#3c9eff"/>
<text x="1032.23" y="401.4" font-size="14.24" fill="#1a1a1a" stroke="#1a1a1a" stroke-width="0" textLength="45.60" lengthAdjust="spacingAndGlyphs" >-0.0690</text>
<path d="M1025.4,476.5 L1030.6,468.1 H1082 V484.9 H1030.6 Z" fill="#2fbf2f"/>
<text x="1032.63" y="481.6" font-size="14.24" fill="#1a1a1a" stroke="#1a1a1a" stroke-width="0" textLength="45.87" lengthAdjust="spacingAndGlyphs" >-0.3216</text>
<path d="M1025.4,670.8 L1030.6,662.4 H1082 V679.1999999999999 H1030.6 Z" fill="#ffffff"/>
<text x="1031.76" y="675.9" font-size="14.24" fill="#1a1a1a" stroke="#1a1a1a" stroke-width="0" textLength="46.18" lengthAdjust="spacingAndGlyphs" >21.6327</text>
<rect x="46.0" y="540.0" width="1036.0" height="4.0" fill="#4a4a4a" />
<rect x="46.0" y="540.0" width="1036.0" height="1.0" fill="#6a6a6a" />
<rect x="557.0" y="540.5" width="14.0" height="1.0" fill="#ccc" />
<rect x="557.0" y="542.5" width="14.0" height="1.0" fill="#ccc" />
<path d="M49.5,716.5 V720" stroke="#fff" stroke-width="1"/>
<path d="M63.5,716.5 V720" stroke="#fff" stroke-width="1"/>
<path d="M77.5,716.5 V720" stroke="#fff" stroke-width="1"/>
<path d="M94.5,716.5 V720" stroke="#fff" stroke-width="1"/>
<path d="M108.5,716.5 V720" stroke="#fff" stroke-width="1"/>
<path d="M121.5,716.5 V720" stroke="#fff" stroke-width="1"/>
<path d="M139.5,716.5 V720" stroke="#fff" stroke-width="1"/>
<path d="M152.5,716.5 V720" stroke="#fff" stroke-width="1"/>
<path d="M166.5,716.5 V720" stroke="#fff" stroke-width="1"/>
<path d="M183.5,716.5 V720" stroke="#fff" stroke-width="1"/>
<path d="M197.5,716.5 V720" stroke="#fff" stroke-width="1"/>
<path d="M211.5,716.5 V720" stroke="#fff" stroke-width="1"/>
<path d="M229.5,716.5 V720" stroke="#fff" stroke-width="1"/>
<path d="M242.5,716.5 V720" stroke="#fff" stroke-width="1"/>
<path d="M255.5,716.5 V720" stroke="#fff" stroke-width="1"/>
<path d="M272.5,716.5 V720" stroke="#fff" stroke-width="1"/>
<path d="M287.5,716.5 V720" stroke="#fff" stroke-width="1"/>
<path d="M303.5,716.5 V720" stroke="#fff" stroke-width="1"/>
<path d="M317.5,716.5 V720" stroke="#fff" stroke-width="1"/>
<path d="M331.5,716.5 V720" stroke="#fff" stroke-width="1"/>
<path d="M345.5,716.5 V720" stroke="#fff" stroke-width="1"/>
<path d="M361.5,716.5 V720" stroke="#fff" stroke-width="1"/>
<path d="M375.5,716.5 V720" stroke="#fff" stroke-width="1"/>
<path d="M389.5,716.5 V720" stroke="#fff" stroke-width="1"/>
<path d="M406.5,716.5 V720" stroke="#fff" stroke-width="1"/>
<path d="M420.5,716.5 V720" stroke="#fff" stroke-width="1"/>
<path d="M437.5,716.5 V720" stroke="#fff" stroke-width="1"/>
<path d="M451.5,716.5 V720" stroke="#fff" stroke-width="1"/>
<path d="M464.5,716.5 V720" stroke="#fff" stroke-width="1"/>
<path d="M481.5,716.5 V720" stroke="#fff" stroke-width="1"/>
<path d="M495.5,716.5 V720" stroke="#fff" stroke-width="1"/>
<path d="M509.5,716.5 V720" stroke="#fff" stroke-width="1"/>
<path d="M526.5,716.5 V720" stroke="#fff" stroke-width="1"/>
<path d="M540.5,716.5 V720" stroke="#fff" stroke-width="1"/>
<path d="M554.5,716.5 V720" stroke="#fff" stroke-width="1"/>
<path d="M570.5,716.5 V720" stroke="#fff" stroke-width="1"/>
<path d="M584.5,716.5 V720" stroke="#fff" stroke-width="1"/>
<path d="M598.5,716.5 V720" stroke="#fff" stroke-width="1"/>
<path d="M615.5,716.5 V720" stroke="#fff" stroke-width="1"/>
<path d="M629.5,716.5 V720" stroke="#fff" stroke-width="1"/>
<path d="M642.5,716.5 V720" stroke="#fff" stroke-width="1"/>
<path d="M660.5,716.5 V720" stroke="#fff" stroke-width="1"/>
<path d="M674.5,716.5 V720" stroke="#fff" stroke-width="1"/>
<path d="M687.5,716.5 V720" stroke="#fff" stroke-width="1"/>
<path d="M704.5,716.5 V720" stroke="#fff" stroke-width="1"/>
<path d="M719.5,716.5 V720" stroke="#fff" stroke-width="1"/>
<path d="M733.5,716.5 V720" stroke="#fff" stroke-width="1"/>
<path d="M749.5,716.5 V720" stroke="#fff" stroke-width="1"/>
<path d="M762.5,716.5 V720" stroke="#fff" stroke-width="1"/>
<path d="M780.5,716.5 V720" stroke="#fff" stroke-width="1"/>
<path d="M793.5,716.5 V720" stroke="#fff" stroke-width="1"/>
<path d="M807.5,716.5 V720" stroke="#fff" stroke-width="1"/>
<path d="M824.5,716.5 V720" stroke="#fff" stroke-width="1"/>
<path d="M838.5,716.5 V720" stroke="#fff" stroke-width="1"/>
<path d="M856.5,716.5 V720" stroke="#fff" stroke-width="1"/>
<path d="M868.5,716.5 V720" stroke="#fff" stroke-width="1"/>
<path d="M882.5,716.5 V720" stroke="#fff" stroke-width="1"/>
<path d="M896.5,716.5 V720" stroke="#fff" stroke-width="1"/>
<path d="M914.5,716.5 V720" stroke="#fff" stroke-width="1"/>
<path d="M927.5,716.5 V720" stroke="#fff" stroke-width="1"/>
<path d="M941.5,716.5 V720" stroke="#fff" stroke-width="1"/>
<path d="M958.5,716.5 V720" stroke="#fff" stroke-width="1"/>
<path d="M972.5,716.5 V720" stroke="#fff" stroke-width="1"/>
<path d="M989.5,716.5 V720" stroke="#fff" stroke-width="1"/>
<path d="M1002.5,716.5 V720" stroke="#fff" stroke-width="1"/>
<path d="M1020.5,716.5 V720" stroke="#fff" stroke-width="1"/>
<path d="M121.5,733.5 V748" stroke="#999" stroke-width="1"/>
<path d="M303.5,733.5 V748" stroke="#999" stroke-width="1"/>
<path d="M481.5,733.5 V748" stroke="#999" stroke-width="1"/>
<path d="M660.5,733.5 V748" stroke="#999" stroke-width="1"/>
<path d="M838.5,733.5 V748" stroke="#999" stroke-width="1"/>
<path d="M1020.5,733.5 V748" stroke="#999" stroke-width="1"/>
<text x="70.06" y="746.8" font-size="14.53" fill="#fff" stroke="#fff" stroke-width="0" textLength="28.34" lengthAdjust="spacingAndGlyphs" >2020</text>
<text x="197.86" y="746.8" font-size="14.53" fill="#fff" stroke="#fff" stroke-width="0" textLength="28.48" lengthAdjust="spacingAndGlyphs" >2021</text>
<text x="377.96" y="746.8" font-size="14.53" fill="#fff" stroke="#fff" stroke-width="0" textLength="28.48" lengthAdjust="spacingAndGlyphs" >2022</text>
<text x="556.36" y="746.8" font-size="14.53" fill="#fff" stroke="#fff" stroke-width="0" textLength="28.41" lengthAdjust="spacingAndGlyphs" >2023</text>
<text x="735.07" y="746.8" font-size="14.53" fill="#fff" stroke="#fff" stroke-width="0" textLength="28.21" lengthAdjust="spacingAndGlyphs" >2024</text>
<text x="914.96" y="746.8" font-size="14.53" fill="#fff" stroke="#fff" stroke-width="0" textLength="28.38" lengthAdjust="spacingAndGlyphs" >2025</text>
<rect x="50" y="505" width="516.5" height="30" rx="3" fill="#121414" fill-opacity="0.85"/>
<path d="M57.5,516.5 H63.5 V522.5 H57.5 Z M60.5,522.5 V527.5 M59,519.5 H62" fill="none" stroke="#999" stroke-width="1"/>
<rect x="67.1" y="514.1" width="12.2" height="12.0" fill="#2fbf2f" />
<text x="82.93" y="526.1" font-size="15.41" fill="#fff" stroke="#fff" stroke-width="0" textLength="61.04" lengthAdjust="spacingAndGlyphs" >.NZ-AU10Y</text>
<text x="149.29" y="526.1" font-size="15.41" fill="#fff" stroke="#fff" stroke-width="0" textLength="9.71" lengthAdjust="spacingAndGlyphs" >U</text>
<text x="162.62" y="526.1" font-size="15.41" fill="#fff" stroke="#fff" stroke-width="0" textLength="12.77" lengthAdjust="spacingAndGlyphs" >...</text>
<text x="181.54" y="526.1" font-size="15.41" fill="#fff" stroke="#fff" stroke-width="0" textLength="44.74" lengthAdjust="spacingAndGlyphs" >-0.3216</text>
<rect x="241.1" y="514.1" width="12.2" height="12.0" fill="#ffa01e" />
<text x="256.81" y="526.1" font-size="15.41" fill="#fff" stroke="#fff" stroke-width="0" textLength="38.27" lengthAdjust="spacingAndGlyphs" >SMAVG</text>
<text x="299.44" y="526.1" font-size="15.41" fill="#fff" stroke="#fff" stroke-width="0" textLength="28.54" lengthAdjust="spacingAndGlyphs" >(40)</text>
<text x="332.68" y="526.1" font-size="15.41" fill="#fff" stroke="#fff" stroke-width="0" textLength="13.16" lengthAdjust="spacingAndGlyphs" >...</text>
<text x="351.02" y="526.1" font-size="15.41" fill="#fff" stroke="#fff" stroke-width="0" textLength="39.04" lengthAdjust="spacingAndGlyphs" >0.1083</text>
<rect x="404.1" y="514.1" width="12.2" height="12.0" fill="#3c9eff" />
<text x="419.83" y="526.1" font-size="15.41" fill="#fff" stroke="#fff" stroke-width="0" textLength="38.67" lengthAdjust="spacingAndGlyphs" >EMAVG</text>
<text x="462.84" y="526.1" font-size="15.41" fill="#fff" stroke="#fff" stroke-width="0" textLength="28.43" lengthAdjust="spacingAndGlyphs" >(20)</text>
<text x="495.57" y="526.1" font-size="15.41" fill="#fff" stroke="#fff" stroke-width="0" textLength="13.29" lengthAdjust="spacingAndGlyphs" >...</text>
<text x="514.94" y="526.1" font-size="15.41" fill="#fff" stroke="#fff" stroke-width="0" textLength="45.09" lengthAdjust="spacingAndGlyphs" >-0.0690</text>
<rect x="50" y="548.5" width="222.5" height="29" rx="3" fill="#131313" fill-opacity="0.82"/>
<rect x="58.0" y="556.9" width="12.1" height="12.0" fill="#fff" />
<text x="73.38" y="569.2" font-size="15.41" fill="#fff" stroke="#fff" stroke-width="0" textLength="21.15" lengthAdjust="spacingAndGlyphs" >RSI</text>
<text x="99.19" y="569.2" font-size="15.41" fill="#fff" stroke="#fff" stroke-width="0" textLength="20.62" lengthAdjust="spacingAndGlyphs" >(8)</text>
<text x="125.45" y="569.2" font-size="15.41" fill="#fff" stroke="#fff" stroke-width="0" textLength="68.44" lengthAdjust="spacingAndGlyphs" >(.NZ-AU10Y</text>
<text x="198.18" y="569.2" font-size="15.41" fill="#fff" stroke="#fff" stroke-width="0" textLength="15.71" lengthAdjust="spacingAndGlyphs" >U)</text>
<text x="219.87" y="569.2" font-size="15.41" fill="#fff" stroke="#fff" stroke-width="0" textLength="45.76" lengthAdjust="spacingAndGlyphs" >21.6327</text>
<rect x="348.5" y="29.0" width="273.5" height="22.0" fill="#0c1116" />
<rect x="349.7" y="30.0" width="64.3" height="20.0" fill="#1d2b36" />
<rect x="414.6" y="30.0" width="80.9" height="20.0" fill="#1f3a5c" />
<rect x="496.6" y="30.0" width="61.6" height="20.0" fill="#1d2b36" />
<rect x="559.6" y="30.0" width="61.6" height="20.0" fill="#1d2b36" />
<g fill="none" stroke="#8f9498" stroke-width="1"><circle cx="362.5" cy="39.8" r="3"/><path d="M362.5,34 V45.5 M356.5,39.8 H368.5"/></g>
<path d="M423,44.5 L424,41.5 L430,35.5 L432,37.5 L426,43.5 Z" fill="#8f9498"/>
<rect x="428.0" y="44.0" width="5.0" height="1.0" fill="#8f9498" />
<rect x="505.0" y="35.5" width="9.5" height="1.2" fill="#8f9498" />
<rect x="505.0" y="38.5" width="9.5" height="1.2" fill="#8f9498" />
<rect x="505.0" y="41.5" width="9.5" height="1.2" fill="#8f9498" />
<rect x="505.0" y="44.5" width="9.5" height="1.2" fill="#8f9498" />
<rect x="505.0" y="35.5" width="4.0" height="4.0" fill="#8f9498" />
<g fill="none" stroke="#8f9498" stroke-width="1.2"><circle cx="569.5" cy="38.2" r="3.2"/><path d="M572,40.8 L576.5,45.3"/></g>
<text x="376.44" y="44.0" font-size="13.08" fill="#e8e8e8" stroke="#e8e8e8" stroke-width="0" textLength="32.03" lengthAdjust="spacingAndGlyphs" >Track</text>
<text x="441.40" y="44.0" font-size="13.08" fill="#fff" stroke="#fff" stroke-width="0" textLength="50.25" lengthAdjust="spacingAndGlyphs" >Annotate</text>
<text x="522.73" y="44.0" font-size="13.08" fill="#e8e8e8" stroke="#e8e8e8" stroke-width="0" textLength="30.40" lengthAdjust="spacingAndGlyphs" >News</text>
<text x="585.53" y="44.0" font-size="13.08" fill="#e8e8e8" stroke="#e8e8e8" stroke-width="0" textLength="31.49" lengthAdjust="spacingAndGlyphs" >Zoom</text>
<rect x="0.0" y="23.0" width="46.0" height="725.0" fill="#000" />
<path d="M2.4,28.6 H12.6 L7.5,34 Z" fill="#aaa"/>
<rect x="0.0" y="82.0" width="16.5" height="224.5" fill="url(#fav)" />
<rect x="0.0" y="80.7" width="16.8" height="1.3" fill="#e6e6e6" />
<rect x="0.0" y="306.6" width="16.8" height="1.3" fill="#e6e6e6" />
<rect x="0.0" y="421.0" width="16.8" height="1.3" fill="#e6e6e6" />
<rect x="0.0" y="535.0" width="16.8" height="1.3" fill="#e6e6e6" />
<rect x="0.0" y="648.7" width="16.8" height="1.3" fill="#e6e6e6" />
<g transform="translate(13.5,214) rotate(-90)">
<text x="-1.09" y="0.0" font-size="15.70" fill="#d6d6d6" stroke="#d6d6d6" stroke-width="0" textLength="55.86" lengthAdjust="spacingAndGlyphs" >Favorites</text>
</g>
<path d="M4.3,219.7 L6,218 L12.9,224.6 L13.7,227.7 L10.9,226.6 Z" fill="#e8e8e8"/>
<g transform="translate(13.5,374.5) rotate(-90)">
<text x="-1.03" y="0.0" font-size="15.70" fill="#d6d6d6" stroke="#d6d6d6" stroke-width="0" textLength="22.20" lengthAdjust="spacingAndGlyphs" >Edit</text>
</g>
<g transform="translate(13.5,492.5) rotate(-90)">
<text x="-0.63" y="0.0" font-size="15.70" fill="#d6d6d6" stroke="#d6d6d6" stroke-width="0" textLength="31.14" lengthAdjust="spacingAndGlyphs" >Style</text>
</g>
<g transform="translate(13.5,610.2) rotate(-90)">
<text x="-0.97" y="0.0" font-size="15.70" fill="#d6d6d6" stroke="#d6d6d6" stroke-width="0" textLength="36.49" lengthAdjust="spacingAndGlyphs" >Modes</text>
</g>
<rect x="18.0" y="25.0" width="27.0" height="25.8" fill="#2a5a8e" />
<rect x="18.0" y="53.0" width="27.0" height="26.0" fill="#313131" />
<rect x="18.0" y="82.7" width="27.0" height="25.8" fill="#313131" />
<rect x="18.0" y="111.4" width="27.0" height="25.4" fill="#313131" />
<rect x="18.0" y="139.0" width="27.0" height="26.1" fill="#313131" />
<rect x="18.0" y="166.9" width="27.0" height="25.8" fill="#313131" />
<rect x="18.0" y="194.9" width="27.0" height="25.9" fill="#313131" />
<rect x="18.0" y="223.3" width="27.0" height="25.6" fill="#313131" />
<rect x="18.0" y="251.3" width="27.0" height="25.7" fill="#313131" />
<rect x="18.0" y="279.3" width="27.0" height="25.7" fill="#313131" />
<rect x="18.0" y="309.1" width="27.0" height="25.7" fill="#313131" />
<rect x="18.0" y="337.2" width="27.0" height="25.6" fill="#313131" />
<rect x="18.0" y="365.2" width="27.0" height="25.7" fill="#313131" />
<rect x="18.0" y="393.3" width="27.0" height="25.3" fill="#313131" />
<rect x="18.0" y="423.3" width="27.0" height="25.4" fill="#313131" />
<rect x="18.0" y="450.8" width="27.0" height="25.7" fill="#313131" />
<rect x="18.0" y="478.9" width="27.0" height="25.7" fill="#313131" />
<rect x="18.0" y="507.2" width="27.0" height="25.6" fill="#313131" />
<rect x="18.0" y="537.4" width="27.0" height="25.7" fill="#313131" />
<rect x="18.0" y="565.1" width="27.0" height="25.7" fill="#313131" />
<rect x="18.0" y="592.8" width="27.0" height="25.8" fill="#2a5a8e" />
<rect x="18.0" y="620.8" width="27.0" height="25.9" fill="#2a5a8e" />
<rect x="18.0" y="651.3" width="27.0" height="25.5" fill="#313131" />
<path d="M24,31 L38.5,36.5 L33.3,38.6 L39,44 L36.6,46.2 L31,40.6 L28.6,45.5 Z" fill="#fff"/>
<path d="M25.5,70 L35.5,60.5" stroke="#fff" stroke-width="2.2" fill="none"/>
<rect x="29.5" y="69.5" width="7.3" height="1.2" fill="#fff" />
<path d="M38.2,74.9 H44.2 L41.2,77.9 Z" fill="#eee"/>
<rect x="22.2" y="86.8" width="8.0" height="1.6" fill="#fff" />
<rect x="25.3" y="87.0" width="1.8" height="8.0" fill="#fff" />
<path d="M22.4,94.3 H30 L26.2,100.4 Z" fill="#fff"/>
<rect x="22.2" y="102.0" width="8.0" height="1.7" fill="#fff" />
<text x="30.77" y="102.9" font-size="12.79" fill="#fff" stroke="#fff" stroke-width="0" font-weight="bold" textLength="9.18" lengthAdjust="spacingAndGlyphs" >%</text>
<rect x="22.2" y="115.5" width="8.0" height="1.6" fill="#fff" />
<rect x="25.3" y="115.7" width="1.8" height="8.0" fill="#fff" />
<path d="M22.4,123.0 H30 L26.2,129.1 Z" fill="#fff"/>
<rect x="22.2" y="130.7" width="8.0" height="1.7" fill="#fff" />
<text x="31.43" y="131.0" font-size="12.79" fill="#fff" stroke="#fff" stroke-width="0" font-weight="bold" textLength="7.77" lengthAdjust="spacingAndGlyphs" >$</text>
<rect x="21.0" y="142.0" width="20.1" height="19.8" fill="#c8d2ff" />
<text x="24.18" y="160.7" font-size="23.51" fill="#fbfbfb" stroke="#75758c" stroke-width="1.3" textLength="14.70" lengthAdjust="spacingAndGlyphs" paint-order="stroke" class="sf">T</text>
<rect x="22.0" y="177.7" width="18.3" height="3.3" fill="#fff" />
<path d="M24,214.4 L39.3,200" stroke="#fff" stroke-width="1.5"/>
<circle cx="24.8" cy="213.6" r="3.1" fill="#fff"/><circle cx="34.1" cy="204.6" r="3.1" fill="#fff"/>
<path d="M22.4,244.1 L39.3,228" stroke="#fff" stroke-width="1.5"/>
<circle cx="28" cy="238.6" r="3" fill="#fff"/><circle cx="33.7" cy="233" r="3" fill="#fff"/>
<path d="M22.1,261.7 L39.7,255 V265.7 L22.1,272.4 Z" fill="#a8a8a8" stroke="#f0f0f0" stroke-width="1"/>
<text x="19.87" y="300.2" font-size="22.09" fill="#fff" stroke="#fff" stroke-width="0.7" textLength="15.59" lengthAdjust="spacingAndGlyphs" >R</text>
<rect x="37.2" y="285.0" width="4.0" height="1.6" fill="#fff" />
<rect x="37.2" y="289.8" width="4.0" height="1.6" fill="#fff" />
<rect x="37.2" y="294.6" width="4.0" height="1.6" fill="#fff" />
<rect x="37.2" y="299.2" width="4.0" height="1.6" fill="#fff" />
<path d="M24.8,329.8 L26.2,325.6 L36.3,316 L39.5,319 L29.2,328.6 Z" fill="#b4b4b4"/>
<path d="M38,331.4 H44 L41,334.4 Z" fill="#eee"/>
<path d="M30.1,340.6 L33.3,344.4 H31.1 V348.4 H35.1 V346.2 L38.9,349.4 L35.1,352.6 V350.4 H31.1 V354.4 H33.3 L30.1,358.2 L26.9,354.4 H29.1 V350.4 H25.1 V352.6 L21.3,349.4 L25.1,346.2 V348.4 H29.1 V344.4 H26.9 Z" fill="#bdbdbd"/>
<path d="M23.5,371 L23.5,386.5 L27.2,383 L29.8,388.2 L32,387 L29.5,382 L34.2,381.6 Z" fill="#bdbdbd"/>
<rect x="30.3" y="371.7" width="7.8" height="1.5" fill="#fff" />
<rect x="33.4" y="368.6" width="1.6" height="7.8" fill="#fff" />
<path d="M24,400.6 H37 L36,413.8 H25 Z" fill="#bdbdbd"/>
<rect x="22.9" y="397.8" width="15.2" height="1.8" fill="#bdbdbd" />
<rect x="27.6" y="396.0" width="5.8" height="1.8" fill="#bdbdbd" />
<text x="24.87" y="444.7" font-size="26.56" fill="#fff" stroke="#fff" stroke-width="0" textLength="14.13" lengthAdjust="spacingAndGlyphs"  class="sf" font-style="italic">A</text>
<path d="M38.6,445.1 H44.6 L41.6,448.1 Z" fill="#eee"/>
<rect x="21.7" y="454.6" width="17.9" height="17.9" fill="#fff" stroke="#111" stroke-width="0.8"/>
<path d="M38.6,472.7 H44.6 L41.6,475.7 Z" fill="#eee"/>
<rect x="21.7" y="483.8" width="18.6" height="1.0" fill="#fff" />
<rect x="21.7" y="487.3" width="18.6" height="3.4" fill="#fff" />
<rect x="21.7" y="493.3" width="18.6" height="7.0" fill="#fff" />
<path d="M38.6,500.7 H44.6 L41.6,503.7 Z" fill="#eee"/>
<rect x="21.7" y="514.2" width="18.6" height="1.8" fill="#fff" />
<path d="M21.7,520.3 H40.3" stroke="#fff" stroke-width="1.6" stroke-dasharray="1.6 1.6"/>
<path d="M21.7,525.3 H40.3" stroke="#fff" stroke-width="1.8" stroke-dasharray="5 2"/>
<path d="M38.6,529.1 H44.6 L41.6,532.1 Z" fill="#eee"/>
<ellipse cx="32" cy="549.4" rx="12.2" ry="3.6" transform="rotate(-42 32 549.4)" fill="none" stroke="#e6e6e6" stroke-width="1.7" stroke-dasharray="1.7 1.6"/>
<path d="M31.4,570.8 V586 M23.9,578.4 H39.2" stroke="#fff" stroke-width="3.3"/>
<path d="M31.4,571.9 V584.9 M25,578.4 H38.1" stroke="#2a2a2a" stroke-width="1.1"/>
<circle cx="31.4" cy="578.4" r="0.9" fill="#fff"/>
<rect x="23.0" y="570.4" width="5.0" height="4.4" fill="#fff" />
<path d="M24.1,570.6 V569.6 A1.4,1.4 0 0 1 26.9,569.6 V570.6" fill="none" stroke="#fff" stroke-width="1"/>
<path d="M39.3,598.1 H32.8 A8.8,8.8 0 0 0 32.8,615.7 H39.3 V611.1 H32.8 A4.2,4.2 0 0 1 32.8,602.7 H39.3 Z" fill="#fff"/>
<path d="M34.5,600.4 H32.8 A6.5,6.5 0 0 0 32.8,613.4 H34.5" fill="none" stroke="#666" stroke-width="0.8"/>
<circle cx="32.1" cy="630.7" r="3.7" fill="#2f8cff"/><circle cx="27.7" cy="637.9" r="3.7" fill="#10d020"/><circle cx="36.1" cy="637.9" r="3.7" fill="#ff1515"/>
<g transform="translate(30.7,663.7)"><rect x="-1.7" y="-7.6" width="3.4" height="15.2" fill="#fff" transform="rotate(0.0)"/><rect x="-1.7" y="-7.6" width="3.4" height="15.2" fill="#fff" transform="rotate(45.0)"/><rect x="-1.7" y="-7.6" width="3.4" height="15.2" fill="#fff" transform="rotate(90.0)"/><rect x="-1.7" y="-7.6" width="3.4" height="15.2" fill="#fff" transform="rotate(135.0)"/><circle r="5.4" fill="#fff"/><circle r="2.6" fill="#313131"/></g>
<path d="M38.4,673.1 H44.4 L41.4,676.1 Z" fill="#eee"/>
</svg>
</body></html>
